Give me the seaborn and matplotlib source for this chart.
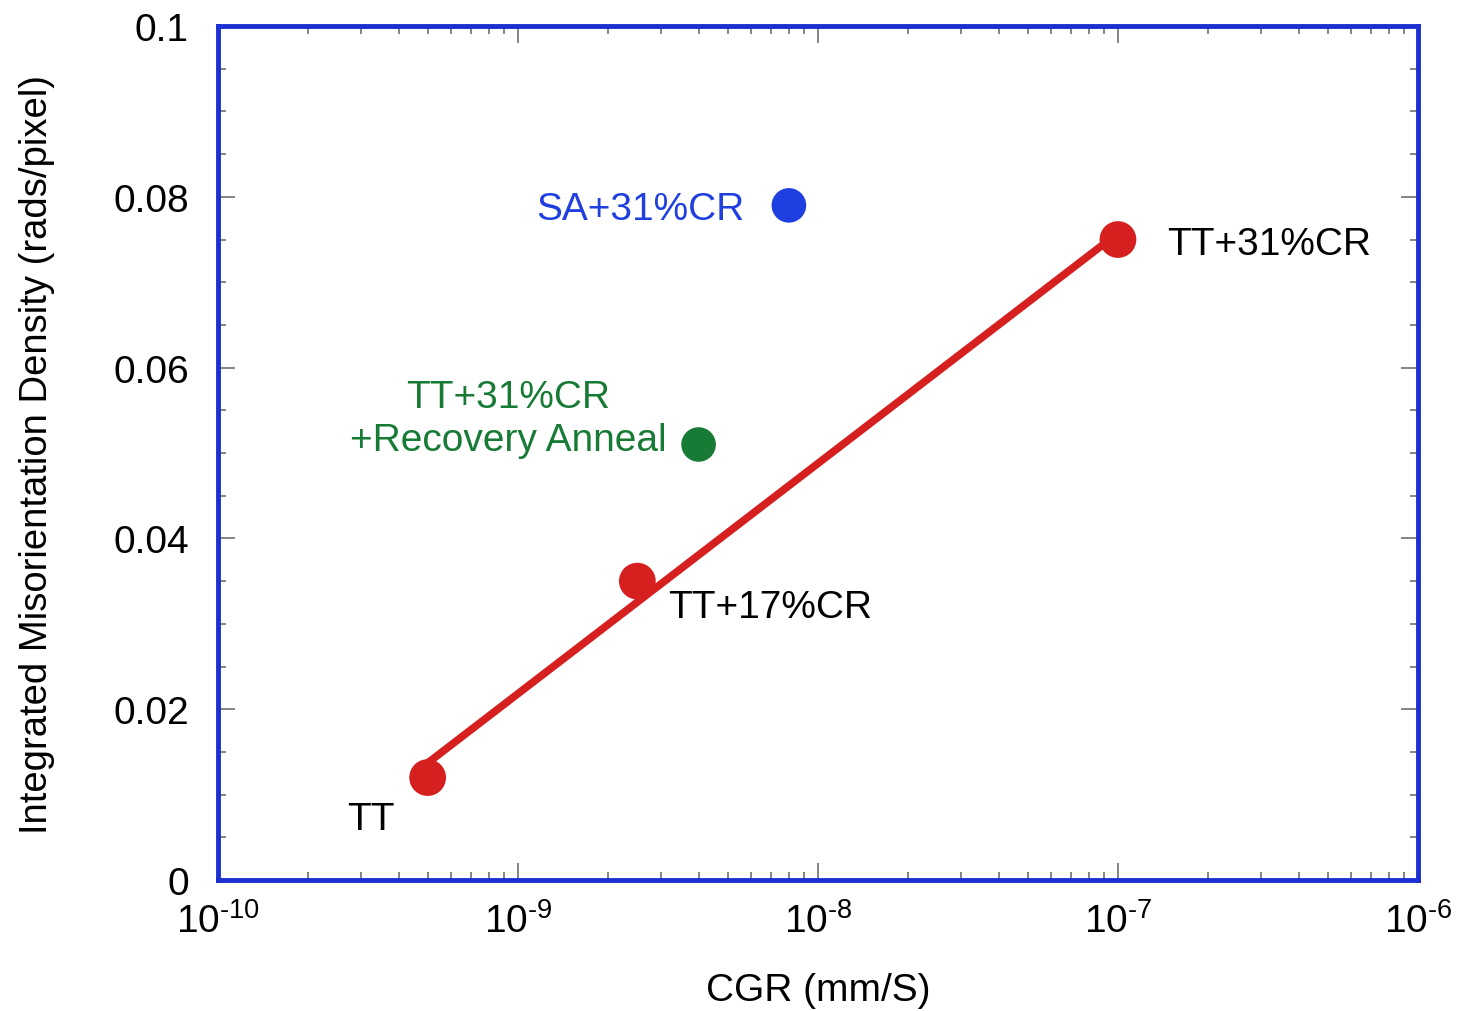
import numpy as np
import pandas as pd
import seaborn as sns
import matplotlib.pyplot as plt
from matplotlib.ticker import LogLocator, MultipleLocator, FuncFormatter

# Data
tt_labels = ["TT", "TT+17%CR", "TT+31%CR"]
tt_cgr = [5e-10, 2.5e-9, 1e-7]
tt_density = [0.012, 0.035, 0.075]

sa_cgr = [8e-9]
sa_density = [0.079]

rec_cgr = [4e-9]
rec_density = [0.051]

x_ticks = [1e-10, 1e-9, 1e-8, 1e-7, 1e-6]
y_ticks = [0, 0.02, 0.04, 0.06, 0.08, 0.1]
y_tick_labels = ["0", "0.02", "0.04", "0.06", "0.08", "0.1"]

red = "#d61f1f"
blue = "#1f3fe0"
green = "#177a35"
frame = "#1c2fd0"

sns.set_style("white")
plt.rcParams["font.family"] = ["Liberation Sans", "DejaVu Sans"]
plt.rcParams["mathtext.fontset"] = "custom"
plt.rcParams["mathtext.rm"] = "Liberation Sans"
plt.rcParams["mathtext.default"] = "regular"
plt.rcParams["axes.unicode_minus"] = False
plt.rcParams["text.color"] = "black"
plt.rcParams["xtick.labelcolor"] = "black"
plt.rcParams["ytick.labelcolor"] = "black"
plt.rcParams["axes.labelcolor"] = "black"

tt_df = pd.DataFrame({"cgr": tt_cgr, "density": tt_density, "label": tt_labels})

fig = plt.figure(figsize=(14.57, 10.12), dpi=100)
ax = fig.add_axes([0.1496, 0.1294, 0.8236, 0.8439])

# fit line: density vs log(CGR) for the TT series
sns.regplot(data=tt_df, x="cgr", y="density", logx=True, ci=None, scatter=False,
            line_kws={"color": red, "linewidth": 5.5, "zorder": 2}, ax=ax)
sns.scatterplot(data=tt_df, x="cgr", y="density", color=red, s=700, edgecolor="none", ax=ax, zorder=3)
sns.scatterplot(x=sa_cgr, y=sa_density, color=blue, s=620, edgecolor="none", ax=ax, zorder=3)
sns.scatterplot(x=rec_cgr, y=rec_density, color=green, s=620, edgecolor="none", ax=ax, zorder=3)

ax.set_xscale("log")
ax.set_xlim(1e-10, 1e-6)
ax.set_ylim(0, 0.1)


def pow10(v, pos):
    n = int(round(np.log10(v)))
    return "$10^{\\text{%d}}$" % n


ax.set_xticks(x_ticks)
ax.xaxis.set_minor_locator(LogLocator(base=10, subs=np.arange(2, 10), numticks=10))
ax.xaxis.set_major_formatter(FuncFormatter(pow10))
ax.yaxis.set_minor_locator(MultipleLocator(0.005))
ax.set_yticks(y_ticks)
ax.set_yticklabels(y_tick_labels)

ax.tick_params(which="both", direction="in", top=True, right=True, bottom=True, left=True,
               color="#707070", width=1.2)
ax.tick_params(which="major", length=12, labelsize=28)
ax.tick_params(which="minor", length=6)
ax.tick_params(axis="x", which="major", pad=16)
ax.tick_params(axis="y", which="major", pad=21)

for side in ax.spines.values():
    side.set_color(frame)
    side.set_linewidth(3.5)

ax.set_xlabel("CGR (mm/S)", fontsize=28, labelpad=23)
ax.set_ylabel("Integrated Misorientation Density (rads/pixel)", fontsize=27.5, labelpad=42)

# Point labels
ax.text(5.7e-9, 0.0786, "SA+31%CR", color=blue, fontsize=28, ha="right", va="center")
ax.text(1.46e-7, 0.0745, "TT+31%CR", color="black", fontsize=28, ha="left", va="center")
ax.text(9.3e-10, 0.054, "TT+31%CR\n+Recovery Anneal", color=green, fontsize=28,
        ha="center", va="center", linespacing=1.25)
ax.text(3.16e-9, 0.032, "TT+17%CR", color="black", fontsize=28, ha="left", va="center")
ax.text(2.69e-10, 0.0071, "TT", color="black", fontsize=28, ha="left", va="center")

fig.savefig("out.png", dpi=100)
